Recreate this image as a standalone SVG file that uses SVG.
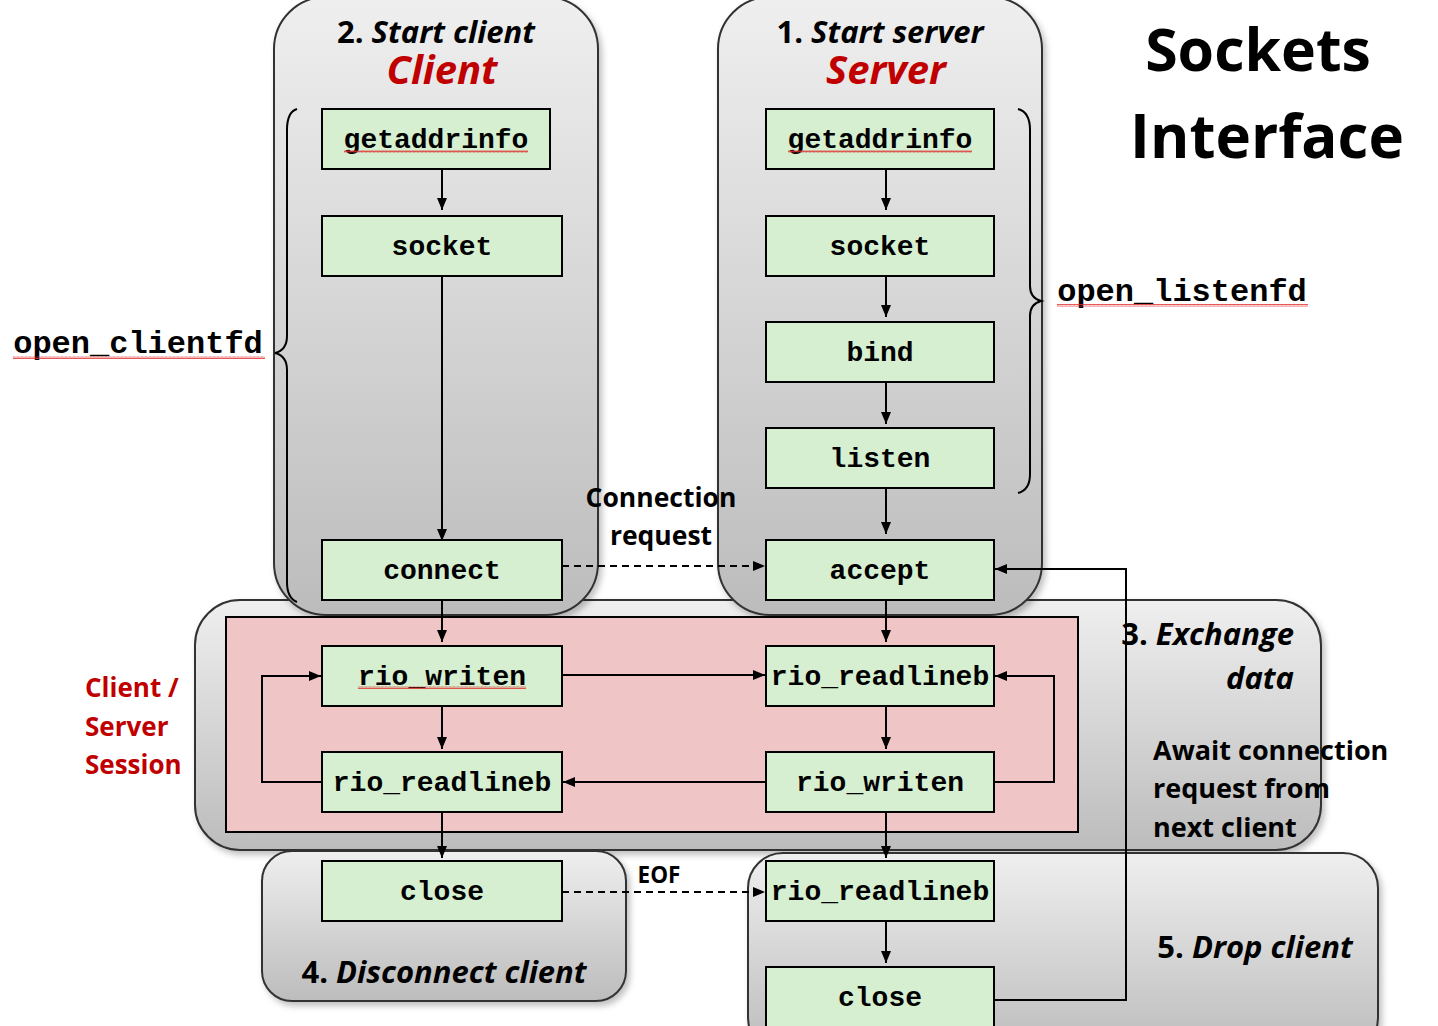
<svg xmlns="http://www.w3.org/2000/svg" width="1438" height="1026" viewBox="0 0 1438 1026">
<defs>
<linearGradient id="pg" x1="0" y1="0" x2="0" y2="1">
<stop offset="0" stop-color="#efefef"/>
<stop offset="1" stop-color="#bcbcbc"/>
</linearGradient>
<filter id="sh" x="-10%" y="-10%" width="125%" height="125%">
<feDropShadow dx="3" dy="4" stdDeviation="3" flood-color="#000" flood-opacity="0.25"/>
</filter>
<marker id="ah" viewBox="0 0 12 10" refX="12" refY="5" markerWidth="12" markerHeight="10" markerUnits="userSpaceOnUse" orient="auto">
<path d="M0,0 L12,5 L0,10z" fill="#000"/>
</marker>
<pattern id="sq" width="4" height="3" patternUnits="userSpaceOnUse">
<polyline points="0,2.5 1,0.5 2,2.5 3,0.5 4,2.5" fill="none" stroke="#e03030" stroke-width="0.8"/>
</pattern>
<style>
.panel{fill:url(#pg);stroke:#333;stroke-width:2;filter:url(#sh)}
.box{fill:#d5efd0;stroke:#000;stroke-width:2}
.mono{font-family:"Liberation Mono","Courier New",monospace;font-weight:bold;fill:#000;text-anchor:middle}
.lbl{font-family:"Open Sans",Lato,sans-serif;font-weight:bold;fill:#000}
.red{fill:#c00000}
.it{font-style:italic}
.ln{fill:none;stroke:#000;stroke-width:2}
.dash{stroke-dasharray:7,5}
</style>
</defs>

<g id="panel-exchange"><rect class="panel" x="195" y="600" width="1126" height="250" rx="45"/></g>
<g id="panel-client"><rect class="panel" x="274" y="-3" width="324" height="618" rx="52"/></g>
<g id="panel-server"><rect class="panel" x="718" y="-3" width="324" height="618" rx="52"/></g>
<g id="panel-disconnect"><rect class="panel" x="262" y="851" width="364" height="150" rx="30"/></g>
<g id="panel-drop"><rect class="panel" x="748" y="853" width="630" height="200" rx="35"/></g>
<g id="session"><rect x="226" y="617" width="852" height="215" fill="#f0c5c6" stroke="#000" stroke-width="2"/></g>

<g id="titles">
<text class="lbl" x="436" y="43" font-size="31" text-anchor="middle">2. <tspan class="it">Start client</tspan></text>
<text class="lbl red it" x="442" y="84" font-size="40" text-anchor="middle">Client</text>
<text class="lbl" x="880" y="43" font-size="31" text-anchor="middle">1. <tspan class="it">Start server</tspan></text>
<text class="lbl red it" x="886" y="84" font-size="40" text-anchor="middle">Server</text>
<text class="lbl" x="1258" y="71" font-size="59" text-anchor="middle">Sockets</text>
<text class="lbl" x="1267" y="158" font-size="60" text-anchor="middle">Interface</text>
<text class="lbl" x="1294" y="645" font-size="31" text-anchor="end">3. <tspan class="it">Exchange</tspan></text>
<text class="lbl it" x="1294" y="689" font-size="31" text-anchor="end">data</text>
<text class="lbl" x="1153" y="760" font-size="27">Await connection</text>
<text class="lbl" x="1153" y="798" font-size="27">request from</text>
<text class="lbl" x="1153" y="837" font-size="27">next client</text>
<text class="lbl red" x="85" y="697" font-size="26">Client /</text>
<text class="lbl red" x="85" y="736" font-size="26">Server</text>
<text class="lbl red" x="85" y="774" font-size="26">Session</text>
<text class="lbl" x="444" y="983" font-size="31" text-anchor="middle">4. <tspan class="it">Disconnect client</tspan></text>
<text class="lbl" x="1255" y="958" font-size="31" text-anchor="middle">5. <tspan class="it">Drop client</tspan></text>
<text class="lbl" x="661" y="507" font-size="26.5" text-anchor="middle">Connection</text>
<text class="lbl" x="661" y="545" font-size="26.5" text-anchor="middle">request</text>
<text class="lbl" x="659" y="883" font-size="22.5" text-anchor="middle">EOF</text>
</g>

<g id="braces">
<path class="ln" d="M297,109 Q287,112 287,130 L287,336 Q287,350 275,353 Q287,356 287,370 L287,582 Q287,598 297,602"/>
<text class="mono" x="138" y="353" style="font-size:32px">open_clientfd</text>
<rect x="13" y="356" width="252" height="3" fill="url(#sq)"/>
<path class="ln" d="M1018,109 Q1030,112 1030,130 L1030,286 Q1030,298 1041,301 Q1030,304 1030,316 L1030,474 Q1030,490 1018,493"/>
<text class="mono" x="1182" y="301" style="font-size:32px">open_listenfd</text>
<rect x="1057" y="304" width="251" height="3" fill="url(#sq)"/>
</g>

<g id="connectors">
<line class="ln" x1="442" y1="169" x2="442" y2="210" marker-end="url(#ah)"/>
<line class="ln" x1="442" y1="276" x2="442" y2="541" marker-end="url(#ah)"/>
<line class="ln" x1="442" y1="600" x2="442" y2="642" marker-end="url(#ah)"/>
<line class="ln" x1="442" y1="706" x2="442" y2="749" marker-end="url(#ah)"/>
<line class="ln" x1="442" y1="812" x2="442" y2="858" marker-end="url(#ah)"/>
<line class="ln" x1="886" y1="169" x2="886" y2="210" marker-end="url(#ah)"/>
<line class="ln" x1="886" y1="276" x2="886" y2="317" marker-end="url(#ah)"/>
<line class="ln" x1="886" y1="382" x2="886" y2="424" marker-end="url(#ah)"/>
<line class="ln" x1="886" y1="488" x2="886" y2="534" marker-end="url(#ah)"/>
<line class="ln" x1="886" y1="600" x2="886" y2="642" marker-end="url(#ah)"/>
<line class="ln" x1="886" y1="706" x2="886" y2="749" marker-end="url(#ah)"/>
<line class="ln" x1="886" y1="812" x2="886" y2="858" marker-end="url(#ah)"/>
<line class="ln" x1="886" y1="921" x2="886" y2="963" marker-end="url(#ah)"/>
<line class="ln" x1="562" y1="675" x2="765" y2="675" marker-end="url(#ah)"/>
<line class="ln" x1="766" y1="782" x2="563" y2="782" marker-end="url(#ah)"/>
<polyline class="ln" points="322,782 262,782 262,676 321,676" marker-end="url(#ah)"/>
<polyline class="ln" points="994,782 1054,782 1054,676 995,676" marker-end="url(#ah)"/>
<line class="ln dash" x1="562" y1="566" x2="765" y2="566" marker-end="url(#ah)"/>
<line class="ln dash" x1="562" y1="892" x2="765" y2="892" marker-end="url(#ah)"/>
<polyline class="ln" points="994,1000 1126,1000 1126,569 995,569" marker-end="url(#ah)"/>
</g>

<g id="n-c-getaddrinfo"><rect class="box" x="322" y="109" width="228" height="60"/><text class="mono" x="436" y="148" style="font-size:28px">getaddrinfo</text><rect x="344" y="150" width="184" height="3" fill="url(#sq)"/></g>
<g id="n-c-socket"><rect class="box" x="322" y="216" width="240" height="60"/><text class="mono" x="442" y="255" style="font-size:28px">socket</text></g>
<g id="n-c-connect"><rect class="box" x="322" y="540" width="240" height="60"/><text class="mono" x="442" y="579" style="font-size:28px">connect</text></g>
<g id="n-c-writen"><rect class="box" x="322" y="646" width="240" height="60"/><text class="mono" x="442" y="685" style="font-size:28px">rio_writen</text><rect x="358" y="686" width="168" height="3" fill="url(#sq)"/></g>
<g id="n-c-readlineb"><rect class="box" x="322" y="752" width="240" height="60"/><text class="mono" x="442" y="791" style="font-size:28px">rio_readlineb</text></g>
<g id="n-c-close"><rect class="box" x="322" y="861" width="240" height="60"/><text class="mono" x="442" y="900" style="font-size:28px">close</text></g>

<g id="n-s-getaddrinfo"><rect class="box" x="766" y="109" width="228" height="60"/><text class="mono" x="880" y="148" style="font-size:28px">getaddrinfo</text><rect x="788" y="150" width="184" height="3" fill="url(#sq)"/></g>
<g id="n-s-socket"><rect class="box" x="766" y="216" width="228" height="60"/><text class="mono" x="880" y="255" style="font-size:28px">socket</text></g>
<g id="n-s-bind"><rect class="box" x="766" y="322" width="228" height="60"/><text class="mono" x="880" y="361" style="font-size:28px">bind</text></g>
<g id="n-s-listen"><rect class="box" x="766" y="428" width="228" height="60"/><text class="mono" x="880" y="467" style="font-size:28px">listen</text></g>
<g id="n-s-accept"><rect class="box" x="766" y="540" width="228" height="60"/><text class="mono" x="880" y="579" style="font-size:28px">accept</text></g>
<g id="n-s-readlineb"><rect class="box" x="766" y="646" width="228" height="60"/><text class="mono" x="880" y="685" style="font-size:28px">rio_readlineb</text></g>
<g id="n-s-writen"><rect class="box" x="766" y="752" width="228" height="60"/><text class="mono" x="880" y="791" style="font-size:28px">rio_writen</text></g>
<g id="n-s-readlineb2"><rect class="box" x="766" y="861" width="228" height="60"/><text class="mono" x="880" y="900" style="font-size:28px">rio_readlineb</text></g>
<g id="n-s-close"><rect class="box" x="766" y="967" width="228" height="70"/><text class="mono" x="880" y="1006" style="font-size:28px">close</text></g>
</svg>
